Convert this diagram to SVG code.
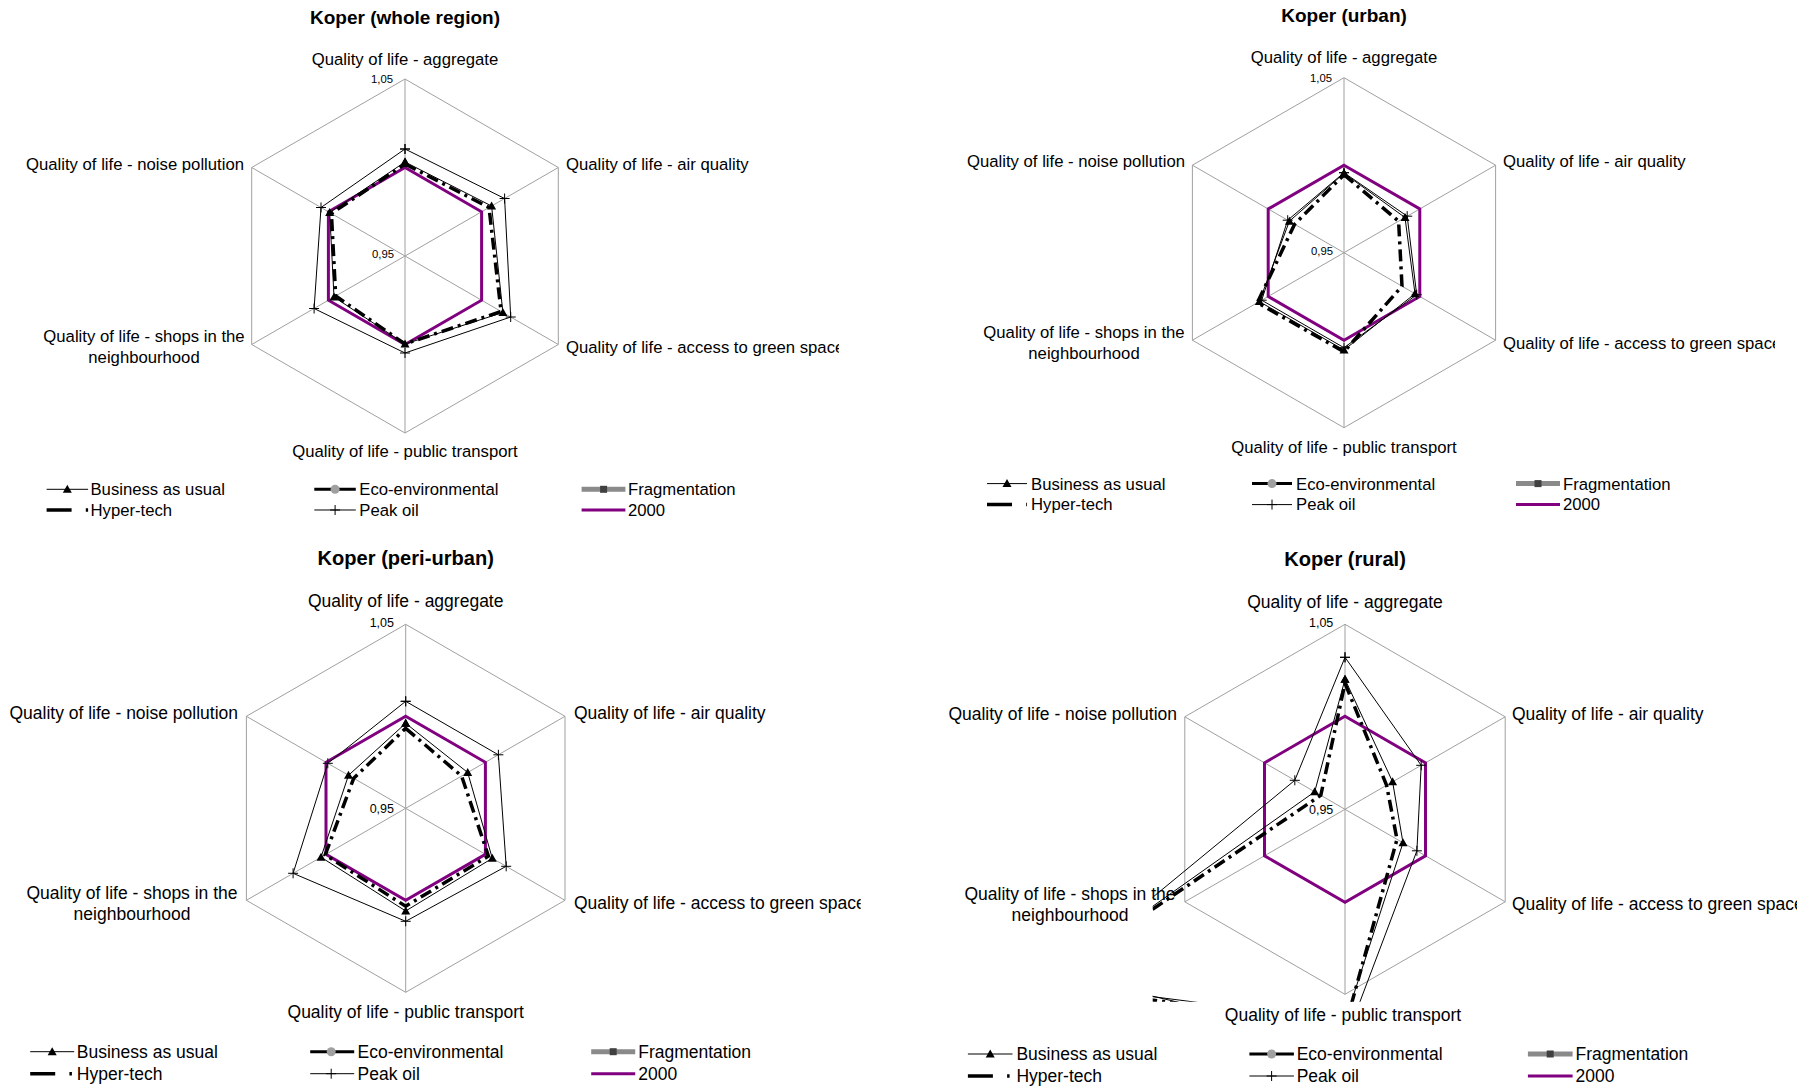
<svg xmlns="http://www.w3.org/2000/svg" xmlns:xlink="http://www.w3.org/1999/xlink" width="1814" height="1089" viewBox="0 0 1814 1089">
<style>
text{font-family:"Liberation Sans",Arial,sans-serif;font-size:16.7px;fill:#000}
.title{font-weight:bold;font-size:19px;text-anchor:middle}
.mid{text-anchor:middle}
.end{text-anchor:end}
.tick{font-size:11.3px;text-anchor:end}
.lg text{font-size:17.5px}
.lg .title{font-size:20.1px}
.lg .tick{font-size:12.5px}
.grid{fill:none;stroke:#a0a0a0;stroke-width:1}
.y2000{fill:none;stroke:#800080;stroke-width:3}
.bau{fill:none;stroke:#000;stroke-width:1;marker-start:url(#tri);marker-mid:url(#tri);marker-end:url(#tri)}
.peak{fill:none;stroke:#000;stroke-width:1;marker-start:url(#plus);marker-mid:url(#plus);marker-end:url(#plus)}
.hyper{fill:none;stroke:#000;stroke-width:3.5;stroke-dasharray:12 5 3 5}
.lthin{stroke:#000;stroke-width:1}
.leco{stroke:#000;stroke-width:3}
.lfrag{stroke:#8a8a8a;stroke-width:5}
.lhyper{stroke:#000;stroke-width:3.5;stroke-dasharray:25 14.2 2.5 10}
.l2000{stroke:#800080;stroke-width:3}
</style>
<defs>
<marker id="tri" markerUnits="userSpaceOnUse" markerWidth="10" markerHeight="10" refX="5" refY="5" overflow="visible"><path d="M5,0.5 L9.5,8.5 L0.5,8.5 Z" fill="#000"/></marker>
<marker id="plus" markerUnits="userSpaceOnUse" markerWidth="10" markerHeight="10" refX="5" refY="5" overflow="visible"><path d="M0,5 H10 M5,0 V10" stroke="#000" stroke-width="1" fill="none"/></marker>
<path id="mtri" d="M0,-4.5 L4.5,3.5 L-4.5,3.5 Z" fill="#000"/>
<path id="mplus" d="M-5,0 H5 M0,-5 V5" stroke="#000" stroke-width="1" fill="none"/>
<circle id="mcirc" r="4.5" fill="#a0a0a0"/>
<rect id="msq" x="-3.5" y="-3.5" width="7" height="7" fill="#404040"/>
<clipPath id="clipTxt1"><rect x="150" y="60" width="284" height="60"/></clipPath>
<clipPath id="clipTxt2"><rect x="150" y="60" width="281" height="60"/></clipPath>
<clipPath id="clipTxt3"><rect x="150" y="60" width="305" height="60"/></clipPath>
<clipPath id="clipTxt4"><rect x="150" y="60" width="302" height="60"/></clipPath>
<clipPath id="clipPlot4"><rect x="-192.3" y="-192.3" width="384.6" height="384.7"/></clipPath>
</defs>
<rect width="1814" height="1089" fill="#fff"/>

<!-- Chart 1: whole region -->
<g id="chart-whole-region" transform="translate(405,256)">
<text class="title" x="0" y="-232.5">Koper (whole region)</text>
<path class="grid" d="M0,-177 L153.3,-88.5 L153.3,88.5 L0,177 L-153.3,88.5 L-153.3,-88.5 Z M0,-177 V177 M153.3,-88.5 L-153.3,88.5 M153.3,88.5 L-153.3,-88.5"/>
<text class="mid" x="0" y="-191">Quality of life - aggregate</text>
<text class="tick" x="-12" y="-173">1,05</text>
<text class="tick" x="-11" y="2">0,95</text>
<text class="end" x="-161" y="-86.5">Quality of life - noise pollution</text>
<text x="161" y="-86.5">Quality of life - air quality</text>
<text class="mid" x="-261" y="85.7">Quality of life - shops in the</text>
<text class="mid" x="-261" y="106.5">neighbourhood</text>
<text x="161" y="97" clip-path="url(#clipTxt1)">Quality of life - access to green space</text>
<text class="mid" x="0" y="201">Quality of life - public transport</text>
<g id="series-1">
<polygon class="y2000" points="0,-88.5 76.6,-44.25 76.6,44.25 0,88.5 -76.6,44.25 -76.6,-44.25"/>
<polygon class="hyper" points="0,-92 84,-48.5 96.1,55.5 0,88 -69.3,40 -73.6,-42.5"/>
<polygon class="bau" points="0,-94 86.6,-50 97.9,56.5 0,88 -71,41 -75.3,-43.5"/>
<polygon class="peak" points="0,-107 99.6,-57.5 105.7,61 0,97 -90.9,52.5 -84,-48.5"/>
</g>
</g>
<g id="legend-1" transform="translate(46.6,489.3)">
<line class="lthin" x1="0" y1="0" x2="41.5" y2="0"/><use href="#mtri" x="20.7" y="0"/><text x="43.9" y="5.9">Business as usual</text>
<line class="leco" x1="267.7" y1="0" x2="309.2" y2="0"/><use href="#mcirc" x="288.5" y="0"/><text x="312.7" y="5.9">Eco-environmental</text>
<line class="lfrag" x1="535" y1="0" x2="578.8" y2="0"/><use href="#msq" x="557" y="0"/><text x="581.4" y="5.9">Fragmentation</text>
<line class="lhyper" x1="0" y1="20.7" x2="41.5" y2="20.7"/><text x="43.9" y="26.6">Hyper-tech</text>
<line class="lthin" x1="267.7" y1="20.7" x2="309.2" y2="20.7"/><use href="#mplus" x="288.5" y="20.7"/><text x="312.7" y="26.6">Peak oil</text>
<line class="l2000" x1="535" y1="20.7" x2="578.8" y2="20.7"/><text x="581.4" y="26.6">2000</text>
</g>

<!-- Chart 2: urban -->
<g id="chart-urban" transform="translate(1344,252.7)">
<text class="title" x="0" y="-231">Koper (urban)</text>
<path class="grid" d="M0,-175 L151.6,-87.5 L151.6,87.5 L0,175 L-151.6,87.5 L-151.6,-87.5 Z M0,-175 V175 M151.6,-87.5 L-151.6,87.5 M151.6,87.5 L-151.6,-87.5"/>
<text class="mid" x="0" y="-189.5">Quality of life - aggregate</text>
<text class="tick" x="-12" y="-171">1,05</text>
<text class="tick" x="-11" y="2.5">0,95</text>
<text class="end" x="-159" y="-85.5">Quality of life - noise pollution</text>
<text x="159" y="-85.5">Quality of life - air quality</text>
<text class="mid" x="-260" y="85.5">Quality of life - shops in the</text>
<text class="mid" x="-260" y="106">neighbourhood</text>
<text x="159" y="96.5" clip-path="url(#clipTxt2)">Quality of life - access to green space</text>
<text class="mid" x="0" y="200">Quality of life - public transport</text>
<g id="series-2">
<polygon class="y2000" points="0,-87.5 75.8,-43.75 75.8,43.75 0,87.5 -75.8,43.75 -75.8,-43.75"/>
<polygon class="hyper" points="0,-78 54.6,-31.5 58,33.5 0,99 -86.6,50 -49.4,-28.5"/>
<polygon class="bau" points="0,-79.4 61,-35.2 71,41 0,97.3 -84.7,48.9 -54.6,-31.5"/>
<polygon class="peak" points="0,-80 63.2,-36.5 72.7,42 0,95 -82.3,47.5 -56.3,-32.5"/>
</g>
</g>
<g id="legend-2" transform="translate(987,483.6)">
<line class="lthin" x1="0" y1="0" x2="40" y2="0"/><use href="#mtri" x="20" y="0"/><text x="44" y="5.9">Business as usual</text>
<line class="leco" x1="265" y1="0" x2="305" y2="0"/><use href="#mcirc" x="285" y="0"/><text x="309" y="5.9">Eco-environmental</text>
<line class="lfrag" x1="529" y1="0" x2="573" y2="0"/><use href="#msq" x="551" y="0"/><text x="576" y="5.9">Fragmentation</text>
<line class="lhyper" x1="0" y1="21" x2="40" y2="21"/><text x="44" y="26.9">Hyper-tech</text>
<line class="lthin" x1="265" y1="21" x2="305" y2="21"/><use href="#mplus" x="285" y="21"/><text x="309" y="26.9">Peak oil</text>
<line class="l2000" x1="529" y1="21" x2="573" y2="21"/><text x="576" y="26.9">2000</text>
</g>

<!-- Chart 3: peri-urban -->
<g id="chart-peri-urban" class="lg" transform="translate(405.7,808.3)">
<text class="title" x="0" y="-243">Koper (peri-urban)</text>
<path class="grid" d="M0,-184 L159.3,-92 L159.3,92 L0,184 L-159.3,92 L-159.3,-92 Z M0,-184 V184 M159.3,-92 L-159.3,92 M159.3,92 L-159.3,-92"/>
<text class="mid" x="0" y="-201">Quality of life - aggregate</text>
<text class="tick" x="-11.7" y="-181">1,05</text>
<text class="tick" x="-11.7" y="4.3">0,95</text>
<text class="end" x="-167.7" y="-89.5">Quality of life - noise pollution</text>
<text x="168.3" y="-89.5">Quality of life - air quality</text>
<text class="mid" x="-273.7" y="91">Quality of life - shops in the</text>
<text class="mid" x="-273.7" y="111.5">neighbourhood</text>
<text x="168.3" y="101" clip-path="url(#clipTxt3)">Quality of life - access to green space</text>
<text class="mid" x="0" y="210">Quality of life - public transport</text>
<g id="series-3">
<polygon class="y2000" points="0,-92 79.7,-46 79.7,46 0,92 -79.7,46 -79.7,-46"/>
<polygon class="hyper" points="0,-80 55.9,-32.3 82.7,47.8 0,98 -80.5,46.5 -52,-30"/>
<polygon class="bau" points="0,-85 62,-35.8 86.6,50 0,102.7 -84.7,48.9 -57.2,-33"/>
<polygon class="peak" points="0,-107 92.7,-53.5 100.5,58 0,113 -112.6,65 -77.9,-45"/>
</g>
</g>
<g id="legend-3" class="lg" transform="translate(30.2,1051.7)">
<line class="lthin" x1="0" y1="0" x2="44" y2="0"/><use href="#mtri" x="22" y="0"/><text x="46.6" y="6.2">Business as usual</text>
<line class="leco" x1="280" y1="0" x2="324" y2="0"/><use href="#mcirc" x="301" y="0"/><text x="327.4" y="6.2">Eco-environmental</text>
<line class="lfrag" x1="561" y1="0" x2="605" y2="0"/><use href="#msq" x="583" y="0"/><text x="608" y="6.2">Fragmentation</text>
<line class="lhyper" x1="0" y1="22" x2="44" y2="22"/><text x="46.6" y="28.2">Hyper-tech</text>
<line class="lthin" x1="280" y1="22" x2="324" y2="22"/><use href="#mplus" x="301" y="22"/><text x="327.4" y="28.2">Peak oil</text>
<line class="l2000" x1="561" y1="22" x2="605" y2="22"/><text x="608" y="28.2">2000</text>
</g>

<!-- Chart 4: rural -->
<g id="chart-rural" class="lg" transform="translate(1345,809.3)">
<text class="title" x="0" y="-243">Koper (rural)</text>
<path class="grid" d="M0,-185 L160.2,-92.5 L160.2,92.5 L0,185 L-160.2,92.5 L-160.2,-92.5 Z M0,-185 V185 M160.2,-92.5 L-160.2,92.5 M160.2,92.5 L-160.2,-92.5"/>
<text class="mid" x="0" y="-201">Quality of life - aggregate</text>
<text class="tick" x="-11.7" y="-182">1,05</text>
<text class="tick" x="-11.7" y="4.3">0,95</text>
<text class="end" x="-168" y="-89.5">Quality of life - noise pollution</text>
<text x="167" y="-89.5">Quality of life - air quality</text>
<text class="mid" x="-275" y="91">Quality of life - shops in the</text>
<text class="mid" x="-275" y="111.5">neighbourhood</text>
<text x="167" y="101" clip-path="url(#clipTxt4)">Quality of life - access to green space</text>
<text class="mid" x="-2" y="212">Quality of life - public transport</text>
<g id="series-4" clip-path="url(#clipPlot4)">
<polygon class="y2000" points="0,-93 80.5,-46.5 80.5,46.5 0,93 -80.5,46.5 -80.5,-46.5"/>
<polygon class="hyper" points="0,-126 41.6,-24 52,30 0,218 -303.1,175 -24.2,-14"/>
<polygon class="bau" points="0,-130 47.6,-27.5 58,33.5 0,212 -300.5,173.5 -30.3,-17.5"/>
<polygon class="peak" points="0,-152 76.2,-44 71.9,41.5 0,232 -285.8,165 -50.2,-29"/>
</g>
</g>
<g id="legend-4" class="lg" transform="translate(967.9,1054)">
<line class="lthin" x1="0" y1="0" x2="44.6" y2="0"/><use href="#mtri" x="22.3" y="0"/><text x="48.5" y="6.2">Business as usual</text>
<line class="leco" x1="281.5" y1="0" x2="326" y2="0"/><use href="#mcirc" x="303.7" y="0"/><text x="328.8" y="6.2">Eco-environmental</text>
<line class="lfrag" x1="560" y1="0" x2="604.7" y2="0"/><use href="#msq" x="582.3" y="0"/><text x="607.6" y="6.2">Fragmentation</text>
<line class="lhyper" x1="0" y1="22" x2="44.6" y2="22"/><text x="48.5" y="28.2">Hyper-tech</text>
<line class="lthin" x1="281.5" y1="22" x2="326" y2="22"/><use href="#mplus" x="303.7" y="22"/><text x="328.8" y="28.2">Peak oil</text>
<line class="l2000" x1="560" y1="22" x2="604.7" y2="22"/><text x="607.6" y="28.2">2000</text>
</g>
</svg>
